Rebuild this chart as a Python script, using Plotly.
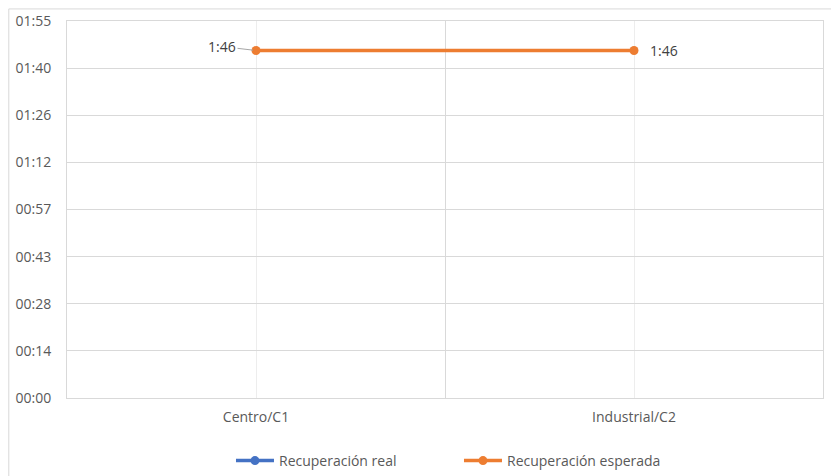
import plotly.graph_objects as go

categories = ["Centro/C1", "Industrial/C2"]
real_minutes = [None, None]
esperada_minutes = [106, 106]
y_tick_minutes = [0, 14.375, 28.75, 43.125, 57.5, 71.875, 86.25, 100.625, 115]
y_tick_labels = ["00:00", "00:14", "00:28", "00:43", "00:57", "01:12", "01:26", "01:40", "01:55"]


def fmt(m):
    return f"{int(m // 60)}:{int(round(m % 60)):02d}"


xpos = list(range(len(categories)))
FONT = "Open Sans"
TXT = "#595959"
GRID = "#d9d9d9"

fig = go.Figure()
fig.add_trace(go.Scatter(
    x=xpos, y=real_minutes, name="Recuperación real", mode="lines+markers",
    line=dict(color="#4472C4", width=3.5), marker=dict(size=9, color="#4472C4"),
))
fig.add_trace(go.Scatter(
    x=xpos, y=esperada_minutes, name="Recuperación esperada", mode="lines+markers",
    line=dict(color="#ED7D31", width=3.5), marker=dict(size=9, color="#ED7D31"),
))
fig.add_annotation(
    x=xpos[0], y=esperada_minutes[0], text=fmt(esperada_minutes[0]),
    showarrow=True, arrowhead=0, arrowwidth=1, arrowcolor="#a6a6a6",
    ax=-34, ay=-4, standoff=3,
    font=dict(family=FONT, size=14, color="#404040"),
)
fig.add_annotation(
    x=xpos[1], y=esperada_minutes[1], text=fmt(esperada_minutes[1]),
    showarrow=False, xanchor="left", xshift=14,
    font=dict(family=FONT, size=14, color="#404040"),
)

fig.update_layout(
    width=831, height=468,
    margin=dict(l=59, r=16, t=13, b=78),
    paper_bgcolor="white", plot_bgcolor="white",
    font=dict(family=FONT, size=14, color=TXT),
    showlegend=True,
    legend=dict(orientation="h", x=0.5185, xanchor="center",
                yref="container", y=0.032, yanchor="middle",
                font=dict(family=FONT, size=14, color=TXT),
                entrywidth=175, entrywidthmode="pixels", itemwidth=38),
    xaxis=dict(
        range=[-0.5, len(categories) - 0.5], tickvals=xpos, ticktext=categories,
        showgrid=True, gridcolor="#ededed", gridwidth=1,
        showline=True, linecolor=GRID, mirror=True, zeroline=False,
        ticks="", ticklabelstandoff=6, automargin=False,
        minor=dict(tickvals=[-0.5, 0.5, 1.5], showgrid=True, gridcolor=GRID, gridwidth=1, ticks=""),
    ),
    yaxis=dict(
        range=[0, 115], tickvals=y_tick_minutes, ticktext=y_tick_labels,
        showgrid=True, gridcolor=GRID, gridwidth=1,
        showline=True, linecolor=GRID, mirror=True, zeroline=False,
        ticks="", ticklabelstandoff=12, automargin=False,
    ),
    shapes=[dict(type="rect", xref="paper", yref="paper",
                 x0=-0.077, x1=1.2, y0=-0.4, y1=1.032,
                 line=dict(color=GRID, width=1), fillcolor="rgba(0,0,0,0)", layer="below")],
)

fig.write_html("out.html")
